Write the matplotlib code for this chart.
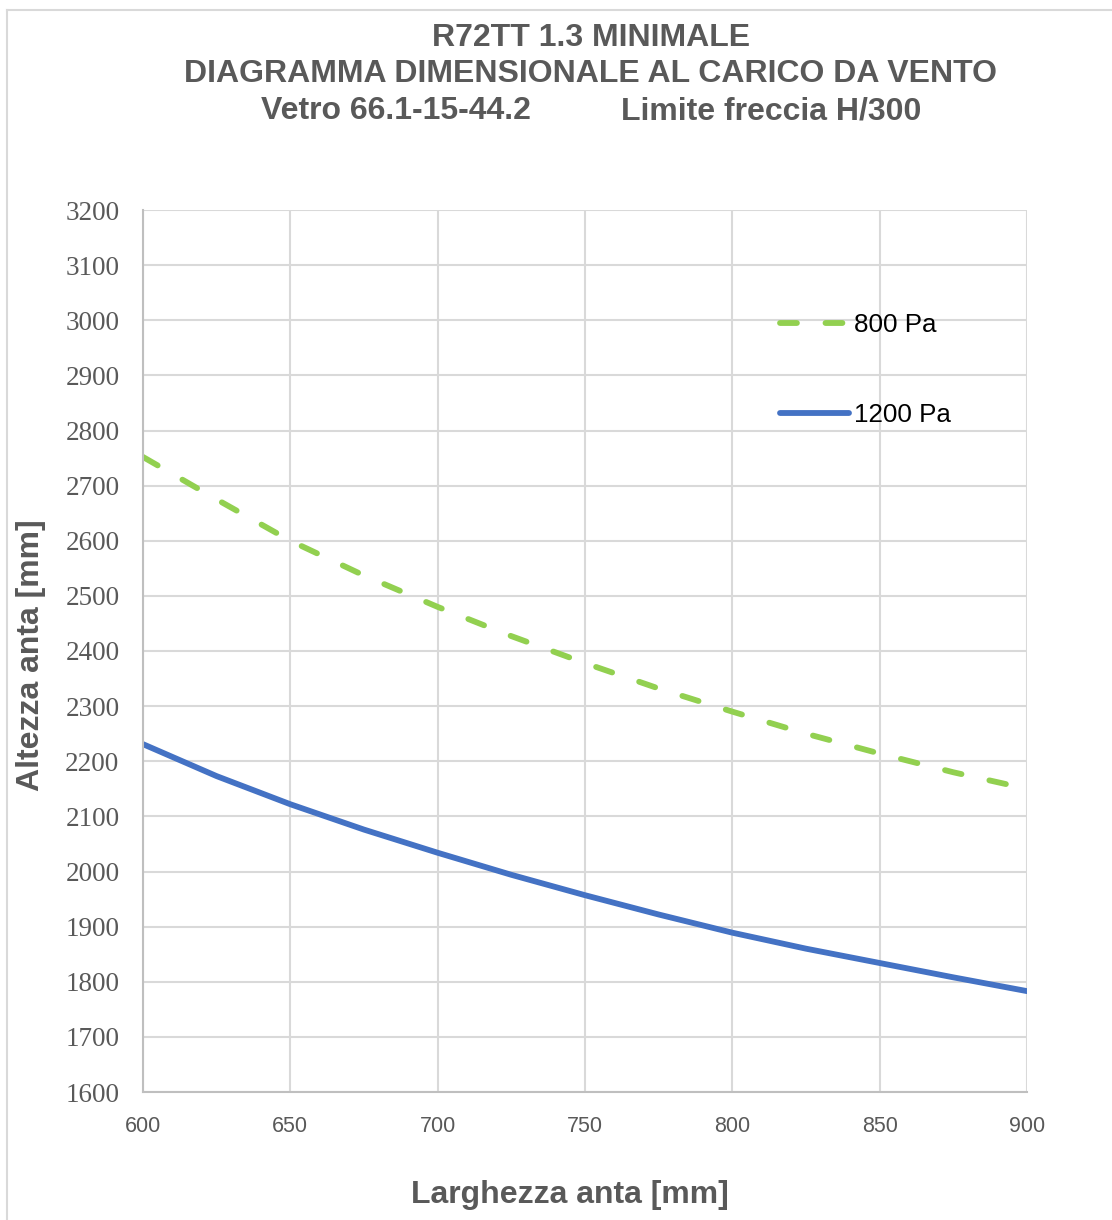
import matplotlib
matplotlib.use("Agg")
import matplotlib.pyplot as plt
from matplotlib.lines import Line2D

# larghezza anta [mm]
larghezza = [600, 625, 650, 675, 700, 725, 750, 775, 800, 825, 850, 875, 900]
# altezza anta [mm]
altezza_800 = [2752, 2675, 2600, 2537, 2480, 2427, 2378, 2332, 2290, 2250, 2214, 2180, 2150]
altezza_1200 = [2231, 2173, 2122, 2076, 2034, 1994, 1957, 1922, 1889, 1860, 1834, 1808, 1783]
serie_labels = ["800 Pa", "1200 Pa"]

y_ticks = list(range(1600, 3201, 100))
x_ticks = list(range(600, 901, 50))

grey = "#595959"
W, H = 1112, 1220

plt.rcParams['font.family'] = ['Liberation Sans', 'DejaVu Sans']

fig = plt.figure(figsize=(W / 100, H / 100), dpi=100)
ax = fig.add_axes([143 / W, 1 - 1092 / H, (1027 - 143) / W, (1092 - 210) / H])

ax.plot(larghezza, altezza_800, color="#92D050", lw=4.2, ls="--",
        dashes=(2.9, 4.9), dash_capstyle="round", label=serie_labels[0])
ax.plot(larghezza, altezza_1200, color="#4472C4", lw=4.2,
        solid_capstyle="round", label=serie_labels[1])

ax.set_xlim(600, 900)
ax.set_ylim(1600, 3200)
ax.set_xticks(x_ticks)
ax.set_yticks(y_ticks)
ax.grid(True, color="#D9D9D9", lw=1.5)
ax.set_axisbelow(True)
for s in ["top", "right"]:
    ax.spines[s].set_visible(False)
for s in ["left", "bottom"]:
    ax.spines[s].set_color("#BFBFBF")
    ax.spines[s].set_linewidth(1.5)
ax.tick_params(length=0)
ax.tick_params(axis="y", pad=17, labelsize=19.5, labelcolor=grey)
ax.tick_params(axis="x", pad=17, labelsize=15.5, labelcolor=grey)
for t in ax.get_yticklabels():
    t.set_family("Liberation Serif")

ax.set_xlabel("Larghezza anta [mm]", fontsize=23, fontweight="bold", color=grey)
ax.xaxis.set_label_coords((570 - 143) / 884, -(1195 - 1092) / 882)
ax.xaxis.label.set_va("center")
ax.set_ylabel("Altezza anta [mm]", fontsize=23, fontweight="bold", color=grey)
ax.yaxis.set_label_coords(-(143 - 31) / 884, 1 - (655 - 210) / 882)
ax.yaxis.label.set_va("center")

leg = ax.legend(loc="upper left", bbox_to_anchor=((767 - 143) / 884, 1 - (300 - 210) / 882),
                frameon=False, fontsize=18.7, handlelength=2.65, handletextpad=0.2,
                labelspacing=2.55, borderpad=0)

# titolo
fig.text(591 / W, 1 - 38 / H, "R72TT 1.3 MINIMALE", ha="center", va="center",
         fontsize=23, fontweight="bold", color=grey)
fig.text(591 / W, 1 - 74 / H, "DIAGRAMMA DIMENSIONALE AL CARICO DA VENTO", ha="center", va="center",
         fontsize=23, fontweight="bold", color=grey)
fig.text(396 / W, 1 - 111 / H, "Vetro 66.1-15-44.2", ha="center", va="center",
         fontsize=23, fontweight="bold", color=grey)
fig.text(771 / W, 1 - 111 / H, "Limite freccia H/300", ha="center", va="center",
         fontsize=23, fontweight="bold", color=grey)

# bordo dell'area grafico
fig.add_artist(Line2D([7 / W, 1.0], [1 - 10 / H, 1 - 10 / H], color="#D9D9D9", lw=1.5))
fig.add_artist(Line2D([7 / W, 7 / W], [0, 1 - 10 / H], color="#D9D9D9", lw=1.5))

fig.savefig("out.png", dpi=100)
